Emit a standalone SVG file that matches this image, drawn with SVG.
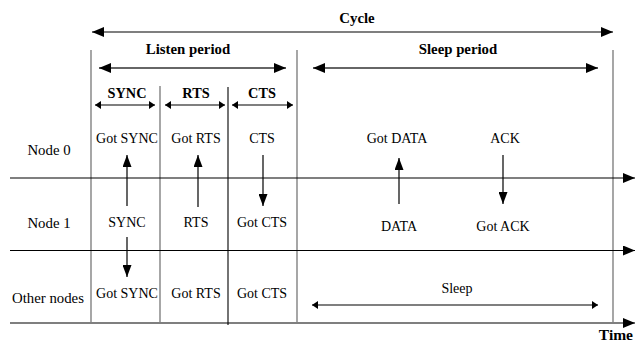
<svg xmlns="http://www.w3.org/2000/svg" width="635" height="349" viewBox="0 0 635 349">
<defs>
<marker id="ah" viewBox="0 0 12 10" refX="12" refY="5" markerWidth="12" markerHeight="10" markerUnits="userSpaceOnUse" orient="auto-start-reverse"><path d="M0,0 L12,5 L0,10 Z" fill="#000"/></marker>
<marker id="ahg" viewBox="0 0 12 10" refX="12" refY="5" markerWidth="12" markerHeight="10" markerUnits="userSpaceOnUse" orient="auto-start-reverse"><path d="M0,0 L12,5 L0,10 Z" fill="#000"/></marker>
<marker id="as" viewBox="0 0 6 8" refX="6" refY="4" markerWidth="6" markerHeight="8" markerUnits="userSpaceOnUse" orient="auto-start-reverse"><path d="M0,0 L6,4 L0,8 Z" fill="#000"/></marker>
<marker id="av" viewBox="0 0 12 9" refX="12" refY="4.5" markerWidth="12" markerHeight="9" markerUnits="userSpaceOnUse" orient="auto-start-reverse"><path d="M0,0 L12,4.5 L0,9 Z" fill="#000"/></marker>
</defs>
<style>
text{font-family:"Liberation Serif","Times New Roman",serif;font-size:14px;fill:#000;text-anchor:middle}
.n{font-size:14.8px}
.b{font-weight:bold;font-size:14.8px}
.bs{font-weight:bold;font-size:14.3px}
.t{font-weight:bold;font-size:15.5px;text-anchor:end}
.v{stroke:#777;stroke-width:1.3}
.vk{stroke:#000;stroke-width:1.1}
.h{stroke:#000;stroke-width:1.2}
.g{stroke:#666;stroke-width:2}
</style>
<rect width="635" height="349" fill="#fff"/>
<g id="frame">
<line class="v" x1="91" y1="50" x2="91" y2="322"/>
<line class="v" x1="297" y1="50" x2="297" y2="322"/>
<line class="v" x1="613" y1="50" x2="613" y2="322"/>
<line class="v" x1="160" y1="86" x2="160" y2="322"/>
<line class="vk" x1="228" y1="87" x2="228" y2="325"/>
</g>
<g id="connectors">
<line class="h" x1="92" y1="32" x2="613" y2="32" marker-start="url(#ah)" marker-end="url(#ah)"/>
<line class="g" x1="99" y1="68" x2="286" y2="68" marker-start="url(#ahg)" marker-end="url(#ahg)"/>
<line class="g" x1="313" y1="68" x2="598" y2="68" marker-start="url(#ahg)" marker-end="url(#ahg)"/>
<line class="h" x1="95" y1="105" x2="155" y2="105" marker-start="url(#as)" marker-end="url(#as)"/>
<line class="h" x1="165" y1="105" x2="225" y2="105" marker-start="url(#as)" marker-end="url(#as)"/>
<line class="h" x1="232" y1="105" x2="293" y2="105" marker-start="url(#as)" marker-end="url(#as)"/>
<line class="h" x1="10" y1="178" x2="635" y2="178" marker-end="url(#ah)"/>
<line class="h" x1="10" y1="250.5" x2="635" y2="250.5" marker-end="url(#ah)"/>
<line class="h" x1="10" y1="323" x2="635" y2="323" marker-end="url(#ah)"/>
<line class="h" x1="127" y1="206" x2="127" y2="155" marker-end="url(#av)"/>
<line class="h" x1="198" y1="207" x2="198" y2="155" marker-end="url(#av)"/>
<line class="h" x1="263" y1="155" x2="263" y2="206" marker-end="url(#av)"/>
<line class="h" x1="399" y1="204" x2="399" y2="158" marker-end="url(#av)"/>
<line class="h" x1="503" y1="155" x2="503" y2="204" marker-end="url(#av)"/>
<line class="h" x1="127" y1="237" x2="127" y2="277" marker-end="url(#av)"/>
<line class="h" x1="312" y1="305" x2="598" y2="305" marker-start="url(#as)" marker-end="url(#as)"/>
</g>
<g id="labels">
<text class="b" x="357" y="23">Cycle</text>
<text class="b" x="188" y="54">Listen period</text>
<text class="b" x="458" y="54">Sleep period</text>
<text class="bs" x="127" y="98">SYNC</text>
<text class="bs" x="196" y="98">RTS</text>
<text class="bs" x="262" y="98">CTS</text>
<text class="t" x="633" y="340">Time</text>
</g>
<g id="row0">
<text class="n" x="49" y="155">Node 0</text>
<text x="127" y="143">Got SYNC</text>
<text x="196" y="143">Got RTS</text>
<text x="262" y="143">CTS</text>
<text x="397" y="143">Got DATA</text>
<text x="505" y="143">ACK</text>
</g>
<g id="row1">
<text class="n" x="49" y="228">Node 1</text>
<text x="127" y="227">SYNC</text>
<text x="196" y="227">RTS</text>
<text x="262" y="227">Got CTS</text>
<text x="399" y="231">DATA</text>
<text x="503" y="231">Got ACK</text>
</g>
<g id="row2">
<text class="n" x="48" y="303">Other nodes</text>
<text x="127" y="298">Got SYNC</text>
<text x="196" y="298">Got RTS</text>
<text x="262" y="298">Got CTS</text>
<text x="457" y="293">Sleep</text>
</g>
</svg>
